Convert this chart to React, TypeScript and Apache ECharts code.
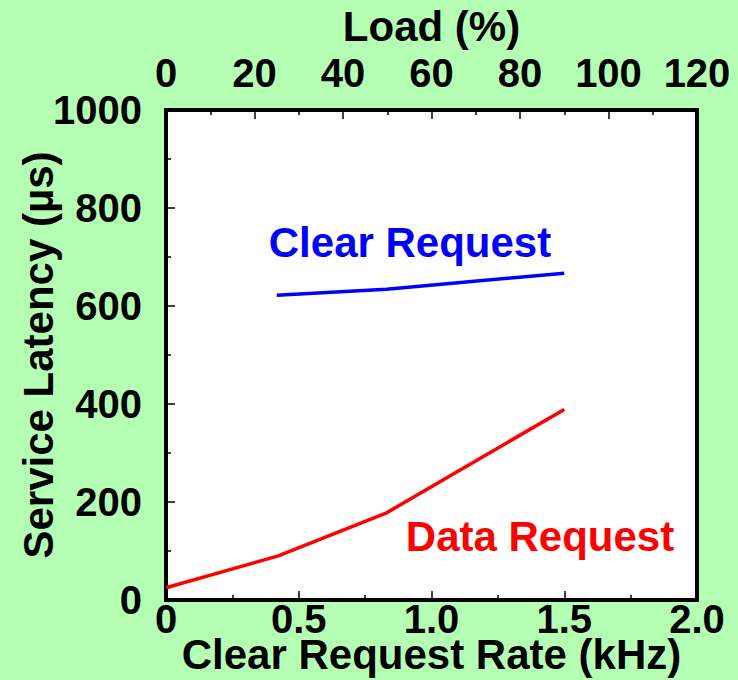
import React, { useEffect, useRef } from "react";
import * as echarts from "echarts";

const clearRate = [0.417, 0.83, 1.5];
const clearLatency = [622, 634, 667];
const dataRate = [0, 0.423, 0.831, 1.5];
const dataLatency = [25, 90, 178, 389];
const rateTicks = [0, 0.5, 1.0, 1.5, 2.0];
const loadTicks = [0, 20, 40, 60, 80, 100, 120];
const latencyTicks = [0, 200, 400, 600, 800, 1000];

const FONT = "'Liberation Sans', Arial, Helvetica, sans-serif";

export default function App() {
  const ref = useRef<HTMLDivElement>(null);
  useEffect(() => {
    document.body.style.margin = "0";
    const chart = echarts.init(ref.current!, undefined, { renderer: "svg" });
    const labelStyle = {
      color: "#000",
      fontSize: 40,
      lineHeight: 30,
      fontWeight: "bold" as const,
      fontFamily: FONT,
    };
    const nameStyle = {
      color: "#000",
      fontSize: 42,
      lineHeight: 32,
      fontWeight: "bold" as const,
      fontFamily: FONT,
    };
    const tick = { show: true, inside: true, length: 9, lineStyle: { color: "#000", width: 1.5 } };
    const minor = { show: true, splitNumber: 2, length: 5, lineStyle: { color: "#000", width: 1.5 } };
    chart.setOption({
      animation: false,
      backgroundColor: "#b4ffb4",
      grid: {
        left: 166,
        right: 41,
        top: 110,
        bottom: 80,
        outerBoundsMode: "none",
        containLabel: false,
        show: true,
        backgroundColor: "#fff",
        borderColor: "#000",
        borderWidth: 4,
        z: 0,
      },
      xAxis: [
        {
          type: "value",
          position: "bottom",
          min: rateTicks[0],
          max: rateTicks[rateTicks.length - 1],
          interval: 0.5,
          axisLine: { show: false },
          axisTick: tick,
          minorTick: minor,
          splitLine: { show: false },
          axisLabel: {
            ...labelStyle,
            margin: 4,
            formatter: (v: number) => (v === 0 ? "0" : v.toFixed(1)),
          },
          name: "Clear Request Rate (kHz)",
          nameLocation: "middle",
          nameGap: 38,
          nameMoveOverlap: false,
          nameTextStyle: nameStyle,
        },
        {
          type: "value",
          position: "top",
          min: loadTicks[0],
          max: loadTicks[loadTicks.length - 1],
          interval: 20,
          axisLine: { show: false },
          axisTick: tick,
          minorTick: minor,
          splitLine: { show: false },
          axisLabel: { ...labelStyle, margin: 22, formatter: (v: number) => String(v) },
          name: "Load (%)",
          nameLocation: "middle",
          nameGap: 68,
          nameMoveOverlap: false,
          nameTextStyle: nameStyle,
        },
      ],
      yAxis: {
        type: "value",
        min: latencyTicks[0],
        max: latencyTicks[latencyTicks.length - 1],
        interval: 200,
        axisLine: { show: false },
        axisTick: tick,
        minorTick: minor,
        splitLine: { show: false },
        axisLabel: { ...labelStyle, margin: 24, formatter: (v: number) => String(v) },
        name: "Service Latency (µs)",
        nameLocation: "middle",
        nameRotate: 90,
        nameGap: 112,
        nameMoveOverlap: false,
        nameTextStyle: nameStyle,
      },
      series: [
        {
          type: "line",
          name: "Clear Request",
          xAxisIndex: 0,
          data: clearRate.map((x, i) => [x, clearLatency[i]]),
          showSymbol: false,
          symbol: "none",
          lineStyle: { color: "#0000ff", width: 3.5 },
          z: 5,
        },
        {
          type: "line",
          name: "Data Request",
          xAxisIndex: 0,
          data: dataRate.map((x, i) => [x, dataLatency[i]]),
          showSymbol: false,
          symbol: "none",
          lineStyle: { color: "#ff0000", width: 3.5 },
          z: 5,
        },
      ],
      graphic: [
        {
          type: "text",
          x: 410,
          y: 242,
          z: 10,
          style: {
            text: "Clear Request",
            fill: "#0000ff",
            fontSize: 42,
            fontWeight: "bold",
            fontFamily: FONT,
            align: "center",
            verticalAlign: "middle",
          },
        },
        {
          type: "text",
          x: 540,
          y: 536,
          z: 10,
          style: {
            text: "Data Request",
            fill: "#ff0000",
            fontSize: 42,
            fontWeight: "bold",
            fontFamily: FONT,
            align: "center",
            verticalAlign: "middle",
          },
        },
      ],
    });
    return () => chart.dispose();
  }, []);
  return (
    <div
      ref={ref}
      style={{ width: 738, height: 680, position: "absolute", left: 0, top: 0 }}
    />
  );
}
